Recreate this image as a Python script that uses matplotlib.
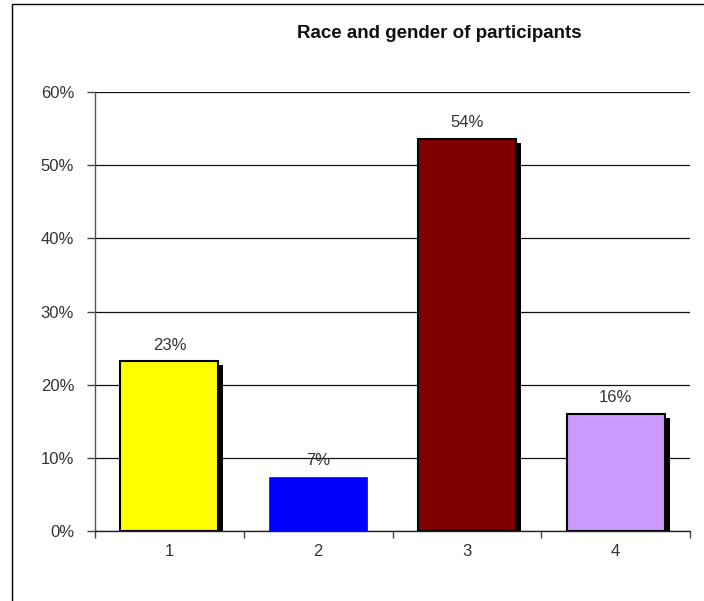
import matplotlib
matplotlib.use("Agg")
import matplotlib.pyplot as plt
import matplotlib.transforms as mtransforms
from matplotlib.patches import Rectangle
from matplotlib.ticker import FuncFormatter, FixedLocator

plt.rcParams['font.family'] = ['Liberation Sans', 'DejaVu Sans']

categories = ["1", "2", "3", "4"]
values = [0.232, 0.074, 0.536, 0.160]
labels = ["23%", "7%", "54%", "16%"]
colors = ["#FFFF00", "#0000FF", "#800000", "#CC99FF"]
outlined = [True, False, True, True]

TEXT = "#333333"

fig = plt.figure(figsize=(7.04, 6.01), dpi=100)
fig.patch.set_facecolor("white")

# outer chart frame
fig.add_artist(Rectangle((12 / 704, -0.05), 1.1, (601 - 4) / 601 + 0.05,
                         transform=fig.transFigure, fill=False,
                         edgecolor="black", linewidth=1.0))

ax = fig.add_axes([95 / 704, 1 - 531 / 601, (690 - 95) / 704, (531 - 92) / 601])
ax.set_facecolor("white")

x = list(range(len(categories)))
width = 0.66

# drop shadows
shadow = ax.transData + mtransforms.ScaledTranslation(5 / 100, -4 / 100, fig.dpi_scale_trans)
for xi, v, o in zip(x, values, outlined):
    if o:
        ax.bar(xi, v, width=width, color="black", transform=shadow, zorder=2, clip_on=True)

for xi, v, c, o in zip(x, values, colors, outlined):
    ax.bar(xi, v, width=width, color=c, edgecolor="black" if o else c,
           linewidth=1.5 if o else 0.5, zorder=3)

for xi, v, lab in zip(x, values, labels):
    ax.annotate(lab, (xi, v), xytext=(0, 16), textcoords="offset pixels",
                ha="center", va="center", fontsize=12, color=TEXT, zorder=4)

ax.set_ylim(0, 0.6)
ax.set_xlim(-0.5, len(categories) - 0.5)
ax.yaxis.set_major_locator(FixedLocator([0, 0.1, 0.2, 0.3, 0.4, 0.5, 0.6]))
ax.yaxis.set_major_formatter(FuncFormatter(lambda v, p: f"{v * 100:.0f}%"))
ax.grid(axis="y", color="#111111", linewidth=0.9, zorder=1)
ax.set_axisbelow(True)

# category boundary ticks, labels centred in categories
ax.xaxis.set_major_locator(FixedLocator([i - 0.5 for i in range(len(categories) + 1)]))
ax.xaxis.set_major_formatter(FuncFormatter(lambda v, p: ""))
ax.xaxis.set_minor_locator(FixedLocator(x))
ax.set_xticklabels(categories, minor=True)
ax.tick_params(axis="x", which="minor", length=0, pad=9, labelsize=12, labelcolor=TEXT)
ax.tick_params(axis="x", which="major", length=5, width=1, direction="out", color="#444444")
ax.tick_params(axis="y", length=6, width=1, direction="out", labelsize=12, pad=9,
               color="#444444", labelcolor=TEXT)

for s in ["top", "right"]:
    ax.spines[s].set_visible(False)
ax.spines["left"].set_color("#555555")
ax.spines["bottom"].set_color("#222222")
for s in ["left", "bottom"]:
    ax.spines[s].set_linewidth(1.0)

fig.text(439 / 704, 1 - 33 / 601, "Race and gender of participants",
         ha="center", va="center", fontsize=13.5, fontweight="bold", color="#111111")

fig.savefig("out.png", dpi=100, facecolor="white")
